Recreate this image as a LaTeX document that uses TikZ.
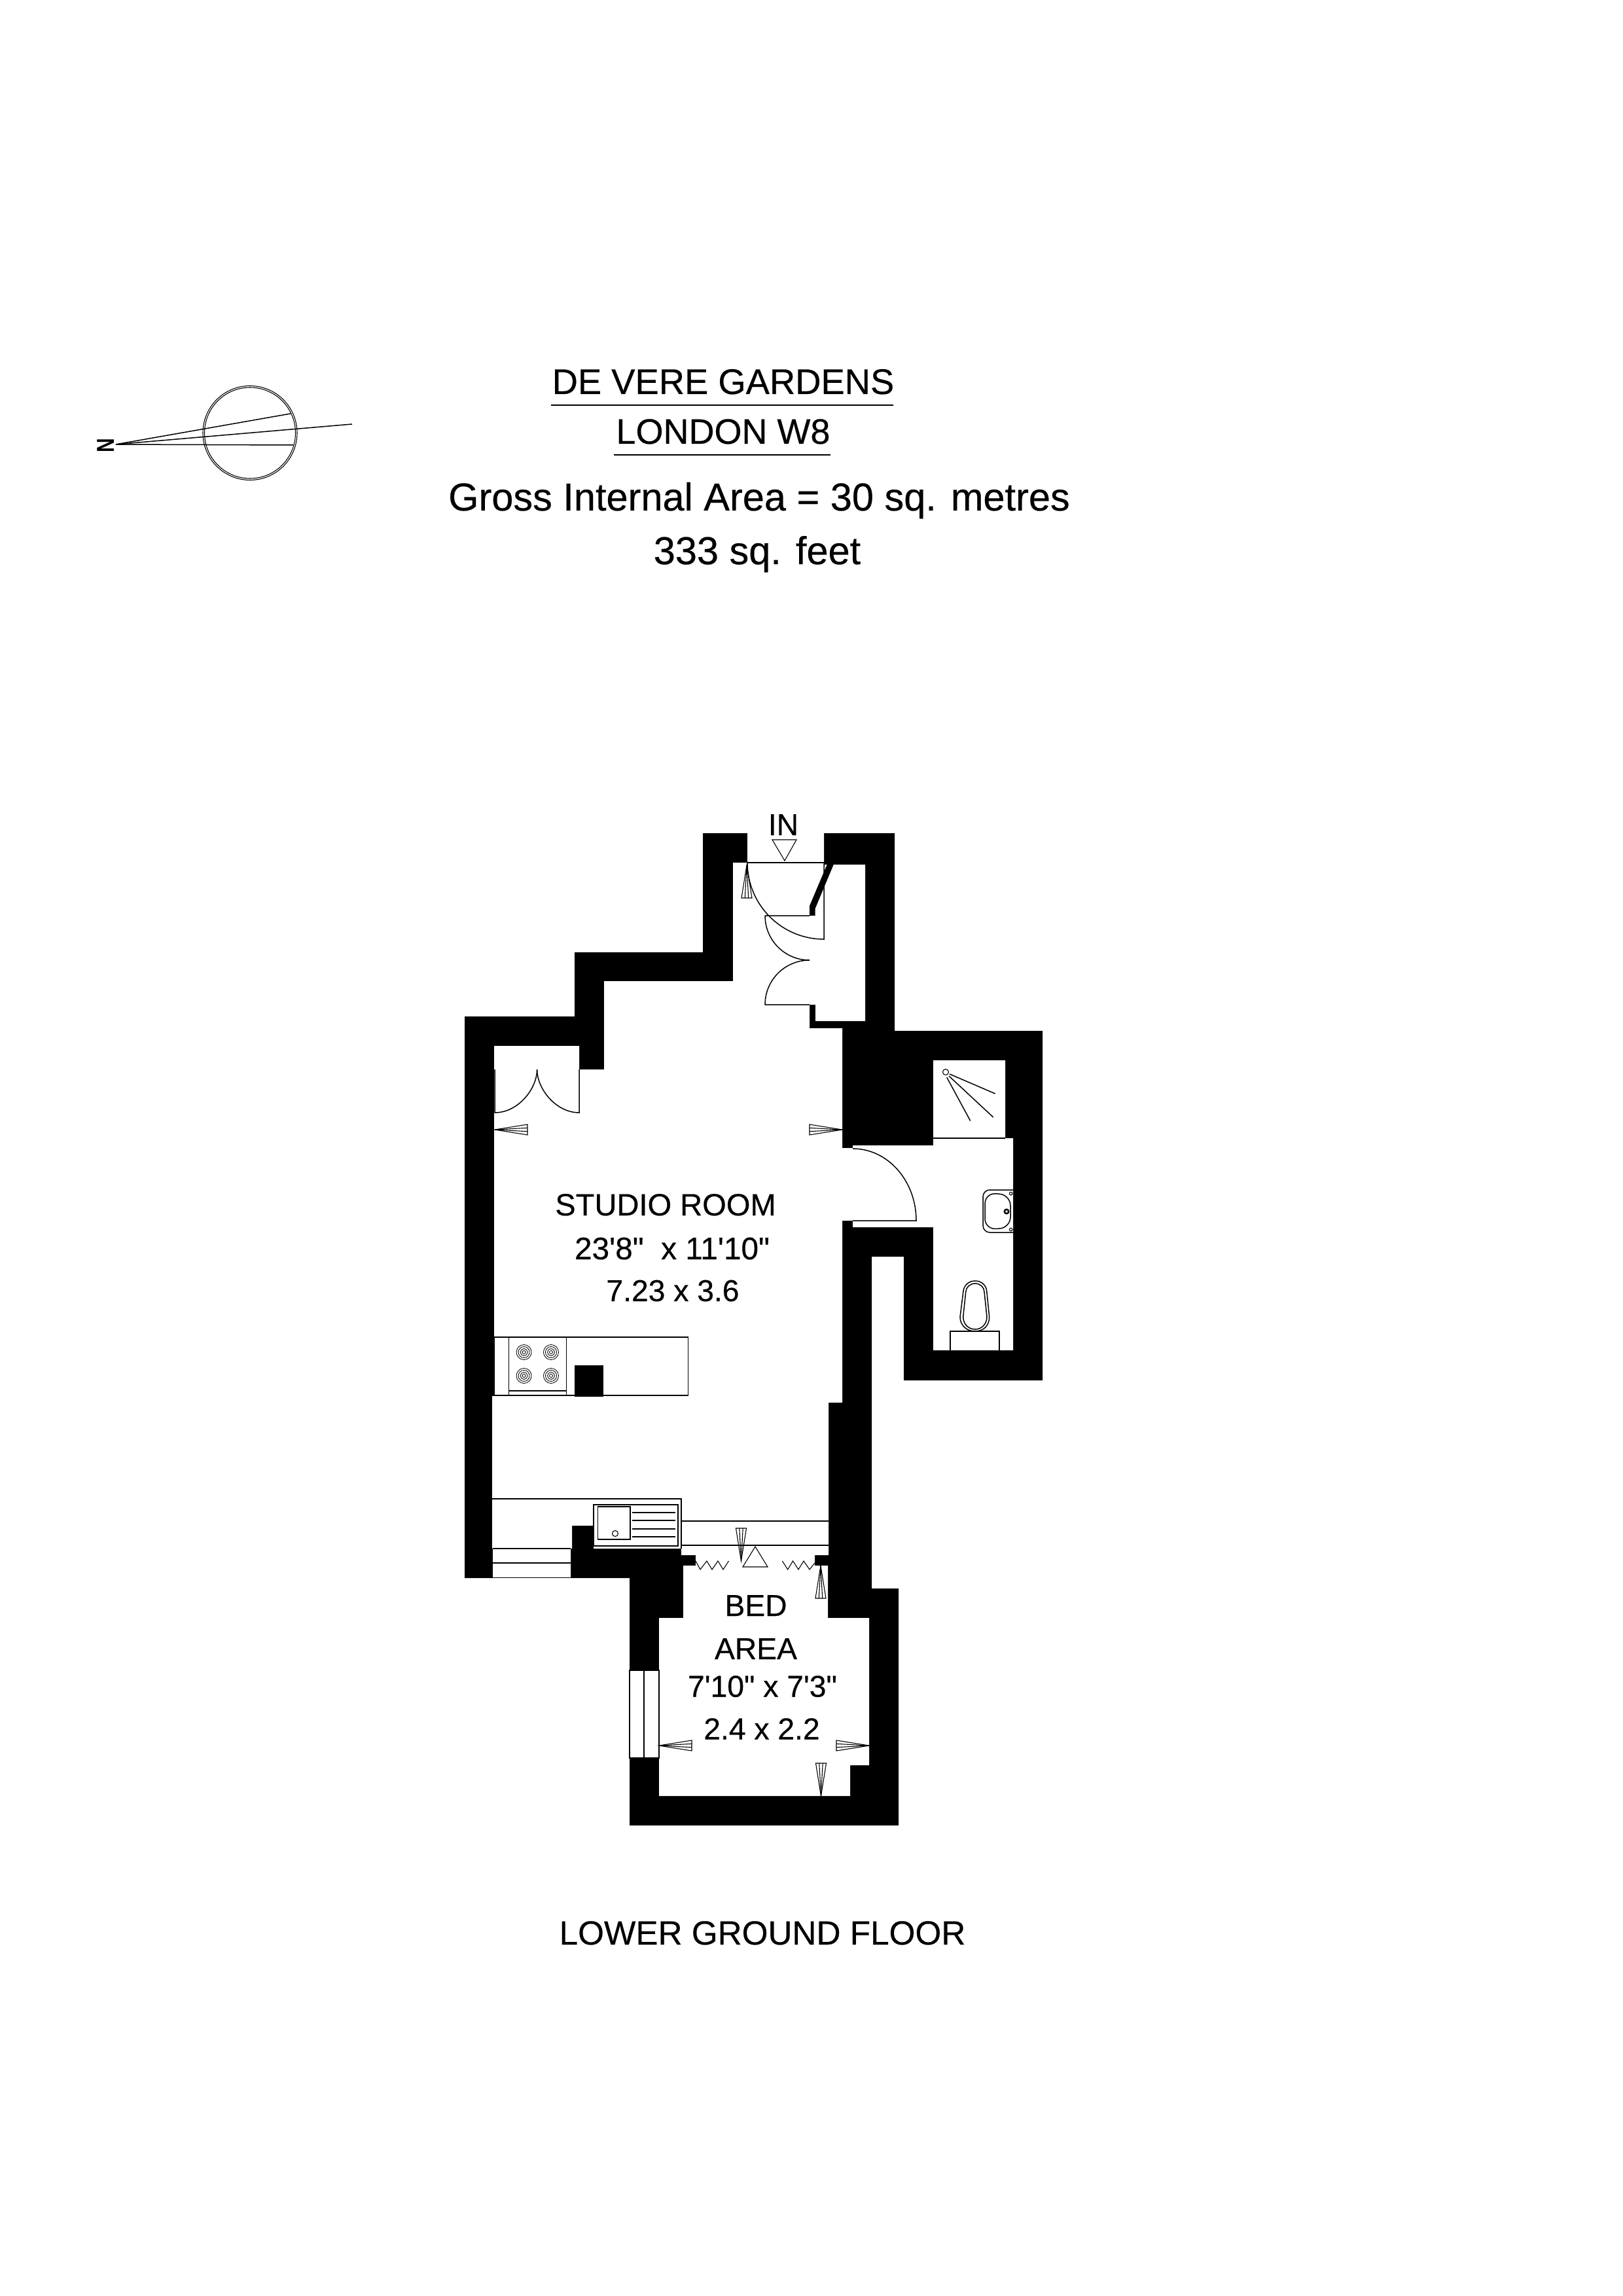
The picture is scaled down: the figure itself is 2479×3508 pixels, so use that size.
\documentclass[tikz,border=0pt]{standalone}
\usepackage{fontspec}
\newfontfamily\plan[FakeBold=0.4]{Liberation Sans}
\newfontfamily\planbold{Liberation Sans Bold}
\newcommand{\fs}[1]{\fontsize{#1}{#1}\selectfont}
\tikzset{
  wall/.style={fill=black,draw=none},
  room/.style={fill=white,draw=none},
  thin/.style={draw=black,line width=0.36pt},
  hair/.style={draw=black,line width=0.26pt},
  txt/.style={inner sep=0pt,outer sep=0pt,anchor=base,text=black,font=\plan},
  small/.style={txt,font=\plan\fs{11.1pt}},
}
\newcommand{\dimmark}[3]{%
  \begin{scope}[shift={(#1,#2)},rotate=#3]
    \draw[hair] (0,0) -- (-8,50) -- (8,50) -- cycle;
    \draw[hair] (0,0) -- (-2.7,50);
    \draw[hair] (0,0) -- (2.7,50);
  \end{scope}}
\begin{document}
\begin{tikzpicture}[x=0.24pt,y=-0.24pt]
\useasboundingbox (0,0) rectangle (2479,3508);
\fill[white] (0,0) rectangle (2479,3508);

% walls
\fill[wall] (1074,1273) -- (1367,1273) -- (1367,1575) -- (1593,1575) -- (1593,2109) -- (1381,2109) -- (1381,1920) -- (1332,1920) -- (1332,2427) -- (1373,2427) -- (1373,2789) -- (962,2789) -- (962,2411) -- (710,2411) -- (710,1553) -- (878,1553) -- (878,1455) -- (1074,1455) -- cycle;
\fill[room] (1142,1272) -- (1259,1272) -- (1259,1321) -- (1322,1321) -- (1322,1560) -- (1246,1560) -- (1246,1535) -- (1237,1535) -- (1237,1571) -- (1287,1571) -- (1287,1754) -- (1303,1754) -- (1303,1750) -- (1426,1750) -- (1426,1620) -- (1536,1620) -- (1536,1739) -- (1548,1739) -- (1548,2063) -- (1426,2063) -- (1426,1875) -- (1303,1875) -- (1303,1865) -- (1287,1865) -- (1287,2143) -- (1266,2143) -- (1266,2376) -- (1245,2376) -- (1245,2392) -- (1265,2392) -- (1265,2472) -- (1328,2472) -- (1328,2697) -- (1299,2697) -- (1299,2744) -- (1007,2744) -- (1007,2472) -- (1044,2472) -- (1044,2392) -- (1063,2392) -- (1063,2376) -- (1041,2376) -- (1041,2366) -- (907,2366) -- (907,2331) -- (874,2331) -- (874,2366) -- (872,2366) -- (872,2412) -- (753,2412) -- (753,2366) -- (752,2366) -- (752,2133) -- (755,2133) -- (755,1598) -- (885,1598) -- (885,1634) -- (923,1634) -- (923,1499) -- (1120,1499) -- (1120,1318) -- (1142,1318) -- cycle;
\fill[room] (961,2552) rectangle (1007,2686);
% entry partition
\fill[wall] (1265,1318) -- (1273.7,1321) -- (1245.7,1388) -- (1245.7,1399) -- (1237,1399) -- (1237,1384) -- cycle;
% kitchen pillar
\fill[wall] (878,2086) rectangle (922,2134);

% entrance
\draw[thin] (1142,1318) -- (1265,1318);
\draw[thin] (1259,1318) -- (1259,1435) .. controls (1194.4,1435) and (1142,1382.6) .. (1142,1318);
\draw[thin] (1237,1399) -- (1169,1399) .. controls (1169,1436.6) and (1199.4,1467) .. (1237,1467);
\draw[thin] (1237,1535) -- (1169,1535) .. controls (1169,1497.4) and (1199.4,1467) .. (1237,1467);
\draw[hair] (1180,1283) -- (1217,1283) -- (1199,1315) -- cycle;
% wardrobe doors
\draw[thin] (756,1634) -- (756,1700) .. controls (791.7,1700) and (820.6,1663.6) .. (820.6,1634);
\draw[thin] (885,1634) -- (885,1700) .. controls (849.4,1700) and (820.6,1663.6) .. (820.6,1634);
% bathroom door
\draw[thin] (1303,1755) .. controls (1356.6,1755) and (1400,1804.2) .. (1400,1865) -- (1303,1865);

% shower
\draw[thin] (1426,1739) -- (1536,1739);
\draw[hair] (1445,1638) circle[radius=4.5];
\draw[thin] (1451,1641) -- (1520.7,1671);
\draw[thin] (1450,1644) -- (1517.7,1707);
\draw[thin] (1446.7,1646) -- (1482.7,1712.5);
% basin
\draw[thin,rounded corners=2.5] (1548,1818) -- (1502,1818) -- (1502,1883) -- (1548,1883);
\draw[thin,rounded corners=4] (1505,1822.5) -- (1544,1825.5) -- (1544,1876) -- (1505,1878.5) -- cycle;
\draw[hair] (1544.7,1823.6) circle[radius=2.3];
\draw[hair] (1544.7,1878.6) circle[radius=2.3];
\draw[thin,line width=0.6pt] (1538,1851) circle[radius=3.2];
% WC
\draw[thin] (1452,2063) -- (1452,2034) -- (1527,2034) -- (1527,2063);
\draw[thin] (1472,1972.5) .. controls (1473,1964) and (1480,1957) .. (1490,1957) .. controls (1500,1957) and (1507,1964) .. (1507.7,1972.5) -- (1511.7,2012) .. controls (1512,2025) and (1503,2034) .. (1490,2034) .. controls (1477,2034) and (1467,2025) .. (1467,2012) -- cycle;
\draw[thin] (1475.7,1974) .. controls (1476,1967) and (1482,1961) .. (1490,1961) .. controls (1498,1961) and (1504,1967) .. (1504,1974) -- (1508,2012) .. controls (1508,2023) and (1500,2031) .. (1490,2031) .. controls (1480,2031) and (1471.7,2023) .. (1471.7,2012) -- cycle;

% kitchen island
\draw[thin] (755,2043) rectangle (1051.5,2132);
\draw[thin] (777.6,2043) -- (777.6,2132);
\draw[thin] (865.5,2043) -- (865.5,2132);
\draw[thin] (777.6,2125) -- (865.5,2125);
\foreach \hx/\hy in {800.6/2066,842/2066,800.6/2102,842/2102}{
  \foreach \hr in {11.5,8.5,5.5,2.5}{
    \draw[draw=black,line width=0.2pt] (\hx,\hy) circle[radius=\hr];
  }
}
% lower counter and sink
\draw[thin] (752,2290) -- (1041,2290) -- (1041,2366);
\draw[thin] (907,2299) rectangle (1036,2362);
\draw[thin] (913.5,2302) rectangle (963,2352);
\draw[hair] (940,2343) circle[radius=4.5];
\foreach \dy in {2311,2323,2336,2348}{\draw[thin] (966,\dy) -- (1032,\dy);}
\draw[thin] (1041,2324) -- (1266,2324);
\draw[thin] (1041,2361) -- (1266,2361);
% windows
\draw[thin] (753,2366) -- (872,2366);
\draw[thin] (753,2388) -- (872,2388);
\draw[thin] (753,2410.5) -- (872,2410.5);
\draw[hair] (962,2552) rectangle (1007,2686);
\draw[hair] (984,2552) -- (984,2686);
% bed-area opening
\draw[hair] (1063,2385) -- (1070,2398) -- (1080,2385) -- (1088,2398) -- (1097,2385) -- (1105,2398) -- (1113.5,2385);
\draw[hair] (1195.4,2385) -- (1203.7,2398) -- (1211.6,2385) -- (1220,2398) -- (1228,2385) -- (1237,2398) -- (1245,2388);
\draw[hair] (1154,2363) -- (1173,2394) -- (1135,2394) -- cycle;

% dimension marks
\dimmark{1141}{1322}{0}
\dimmark{756}{1726}{90}
\dimmark{1287}{1726}{-90}
\dimmark{1132.5}{2385}{180}
\dimmark{1254}{2392}{0}
\dimmark{1007}{2667}{90}
\dimmark{1328}{2667}{-90}
\dimmark{1254.5}{2744}{180}

% compass
\draw[hair] (382,661.5) circle[radius=72];
\draw[hair] (382,661.5) circle[radius=69.5];
\draw[thin] (177,679) -- (444,632);
\draw[thin] (177,679) -- (538,648);
\draw[thin] (177,679) -- (448,680);
\node[txt,anchor=center,rotate=90] (north) at (161.5,680.5) {\scalebox{0.8}[1]{\planbold\fs{9pt}N}};

% titles
\node[txt,font=\plan\fs{13.05pt}] (title) at (1105,602) {DE VERE GARDENS};
\draw[thin] (842,619) -- (1365,619);
\node[txt,font=\plan\fs{12.96pt}] (place) at (1105,678) {LONDON W8};
\draw[thin] (938,695) -- (1269,695);
\node[txt,font=\plan\fs{14.28pt}] (gia) at (1160,780) {Gross Internal Area = 30 sq. metres};
\node[txt,font=\plan\fs{14.28pt}] (sqft) at (1157,862) {333 sq. feet};

% room labels
\node[small] (in) at (1197,1276) {IN};
\node[txt,font=\plan\fs{11.3pt}] (s1) at (1017,1857) {STUDIO ROOM};
\node[txt,font=\plan\fs{11.45pt}] (s2) at (1027,1924) {23'8"\ \ x 11'10"};
\node[small] (s3) at (1028,1988) {7.23 x 3.6};
\node[small] (b1) at (1155,2469) {BED};
\node[small] (b2) at (1155,2535) {AREA};
\node[small] (b3) at (1165,2592.5) {7'10" x 7'3"};
\node[small] (b4) at (1164,2657.5) {2.4 x 2.2};
\node[txt,font=\plan\fs{12.3pt}] (floor) at (1165,2971) {LOWER GROUND FLOOR};
\end{tikzpicture}
\end{document}
